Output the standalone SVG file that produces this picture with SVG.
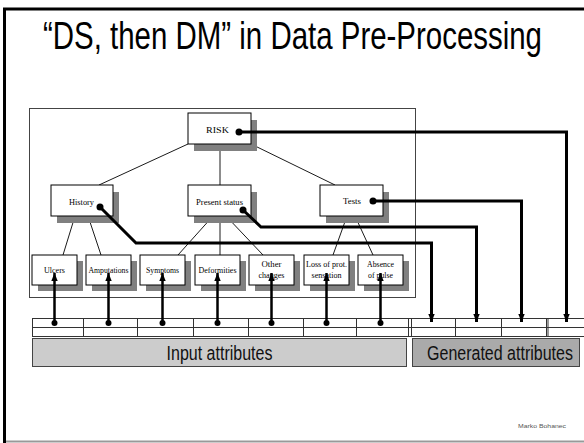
<svg xmlns="http://www.w3.org/2000/svg" width="584" height="443" viewBox="0 0 584 443">
  <style>
    .title { font-family: "Liberation Sans", Arial, sans-serif; font-size: 39px; fill: #000; }
    .box { fill: #fff; stroke: #000; stroke-width: 1; }
    .shadow { fill: #808080; }
    .lbl { font-family: "Liberation Serif", "Times New Roman", serif; font-size: 9px; fill: #000; text-anchor: middle; }
    .tree { stroke: #000; stroke-width: 0.9; fill: none; }
    .conn { stroke: #000; stroke-width: 3; fill: none; }
    .link { stroke: #000; stroke-width: 2.5; fill: none; }
    .grid { stroke: #333; stroke-width: 1; fill: none; }
    .bar { font-family: "Liberation Sans", Arial, sans-serif; font-size: 21px; fill: #111; text-anchor: middle; }
  </style>
  <defs>
    <marker id="head" viewBox="0 0 10 8" refX="10" refY="4" markerWidth="8" markerHeight="6.4" markerUnits="userSpaceOnUse" orient="auto">
      <path d="M0,0 L10,4 L0,8 z" fill="#000"/>
    </marker>
  </defs>

  <!-- slide frame -->
  <rect width="584" height="443" fill="#fff"/>
  <path d="M4.5,443 V9 H584" fill="none" stroke="#000" stroke-width="3"/>
  <line x1="6" y1="441.5" x2="584" y2="441.5" stroke="#999" stroke-width="2"/>

  <!-- narrow title face -->
  <text class="title" transform="translate(43,49) scale(0.755,1)" x="0" y="0">“DS, then DM” in Data Pre-Processing</text>

  <!-- hierarchy frame -->
  <rect x="29.5" y="108.5" width="386" height="189" fill="none" stroke="#444" stroke-width="1"/>

  <!-- tree edges -->
  <g id="tree-edges">
    <line class="tree" x1="188" y1="144" x2="99" y2="185"/>
    <line class="tree" x1="220" y1="144" x2="220" y2="185"/>
    <line class="tree" x1="251" y1="144" x2="335" y2="185"/>
    <line class="tree" x1="75" y1="216" x2="63" y2="255"/>
    <line class="tree" x1="88" y1="216" x2="101" y2="255"/>
    <line class="tree" x1="213" y1="216" x2="178" y2="255"/>
    <line class="tree" x1="220" y1="216" x2="220" y2="255"/>
    <line class="tree" x1="226" y1="216" x2="263" y2="255"/>
    <line class="tree" x1="347" y1="216" x2="333" y2="255"/>
    <line class="tree" x1="355" y1="216" x2="373" y2="255"/>
  </g>

  <!-- upper nodes -->
  <g id="risk">
    <rect class="shadow" x="194" y="120" width="63" height="31"/>
    <rect class="box" x="188" y="113" width="63" height="31"/>
    <text class="lbl" x="217.5" y="133" textLength="23" lengthAdjust="spacingAndGlyphs">RISK</text>
  </g>
  <g id="history">
    <rect class="shadow" x="57" y="192" width="62" height="31"/>
    <rect class="box" x="51" y="185" width="62" height="31"/>
    <text class="lbl" x="81.5" y="205" textLength="25" lengthAdjust="spacingAndGlyphs">History</text>
  </g>
  <g id="present-status">
    <rect class="shadow" x="194" y="192" width="63" height="31"/>
    <rect class="box" x="188" y="185" width="63" height="31"/>
    <text class="lbl" x="219.5" y="205" textLength="47" lengthAdjust="spacingAndGlyphs">Present status</text>
  </g>
  <g id="tests">
    <rect class="shadow" x="326" y="192" width="63" height="31"/>
    <rect class="box" x="320" y="185" width="63" height="31"/>
    <text class="lbl" x="352" y="204" textLength="18" lengthAdjust="spacingAndGlyphs">Tests</text>
  </g>

  <!-- leaf nodes -->
  <g id="ulcers">
    <rect class="shadow" x="38" y="261" width="45" height="30"/>
    <rect class="box" x="32" y="255" width="45" height="30"/>
    <text class="lbl" x="54.5" y="273" textLength="21" lengthAdjust="spacingAndGlyphs">Ulcers</text>
  </g>
  <g id="amputations">
    <rect class="shadow" x="92" y="261" width="45" height="30"/>
    <rect class="box" x="86" y="255" width="45" height="30"/>
    <text class="lbl" x="108.5" y="273" textLength="40" lengthAdjust="spacingAndGlyphs">Amputations</text>
  </g>
  <g id="symptoms">
    <rect class="shadow" x="146" y="261" width="45" height="30"/>
    <rect class="box" x="140" y="255" width="45" height="30"/>
    <text class="lbl" x="162.5" y="273" textLength="33" lengthAdjust="spacingAndGlyphs">Symptoms</text>
  </g>
  <g id="deformities">
    <rect class="shadow" x="201" y="261" width="45" height="30"/>
    <rect class="box" x="195" y="255" width="45" height="30"/>
    <text class="lbl" x="217.5" y="273" textLength="38" lengthAdjust="spacingAndGlyphs">Deformities</text>
  </g>
  <g id="other-changes">
    <rect class="shadow" x="255" y="261" width="45" height="30"/>
    <rect class="box" x="249" y="255" width="45" height="30"/>
    <text class="lbl" x="271.5" y="267" textLength="20" lengthAdjust="spacingAndGlyphs">Other</text>
    <text class="lbl" x="271.5" y="278" textLength="26" lengthAdjust="spacingAndGlyphs">changes</text>
  </g>
  <g id="loss-of-prot-sensation">
    <rect class="shadow" x="310" y="261" width="45" height="30"/>
    <rect class="box" x="304" y="255" width="45" height="30"/>
    <text class="lbl" x="326.5" y="267" textLength="41" lengthAdjust="spacingAndGlyphs">Loss of prot.</text>
    <text class="lbl" x="326.5" y="278" textLength="30" lengthAdjust="spacingAndGlyphs">sensation</text>
  </g>
  <g id="absence-of-pulse">
    <rect class="shadow" x="364" y="261" width="45" height="30"/>
    <rect class="box" x="358" y="255" width="45" height="30"/>
    <text class="lbl" x="380.5" y="267" textLength="27" lengthAdjust="spacingAndGlyphs">Absence</text>
    <text class="lbl" x="380.5" y="278" textLength="25" lengthAdjust="spacingAndGlyphs">of pulse</text>
  </g>

  <!-- attribute table -->
  <g id="attribute-table">
    <rect x="32.5" y="318.5" width="560" height="18" fill="#fff" stroke="#333" stroke-width="1"/>
    <line class="grid" x1="32" y1="327.5" x2="584" y2="327.5"/>
    <path class="grid" d="M83.5,318 V337 M137.5,318 V337 M193.5,318 V337 M248.5,318 V337 M303.5,318 V337 M356.5,318 V337 M408.5,318 V337 M411.5,318 V337 M455.5,318 V337 M501.5,318 V337 M546.5,318 V337 M548,318 V337"/>
  </g>

  <g id="input-attributes">
    <rect x="32.5" y="338.5" width="374" height="28" fill="#cccccc" stroke="#444" stroke-width="1"/>
    <text class="bar" transform="translate(219.5,360) scale(0.763,1)" x="0" y="0">Input attributes</text>
  </g>
  <g id="generated-attributes">
    <rect x="412.5" y="338.5" width="167" height="28" fill="#aaaaaa" stroke="#444" stroke-width="1"/>
    <text class="bar" transform="translate(500,360) scale(0.763,1)" x="0" y="0">Generated attributes</text>
  </g>

  <!-- connectors -->
  <g id="connectors">
    <!-- input attributes feed the leaves -->
    <g class="inputs">
      <line class="link" x1="54.5" y1="323" x2="54.5" y2="273" marker-end="url(#head)"/>
      <line class="link" x1="108.5" y1="323" x2="108.5" y2="273" marker-end="url(#head)"/>
      <line class="link" x1="162.5" y1="323" x2="162.5" y2="273" marker-end="url(#head)"/>
      <line class="link" x1="217.5" y1="323" x2="217.5" y2="273" marker-end="url(#head)"/>
      <line class="link" x1="271.5" y1="323" x2="271.5" y2="273" marker-end="url(#head)"/>
      <line class="link" x1="326.5" y1="323" x2="326.5" y2="273" marker-end="url(#head)"/>
      <line class="link" x1="380.5" y1="323" x2="380.5" y2="273" marker-end="url(#head)"/>
      <g fill="#000">
        <circle cx="54.5" cy="323" r="3"/>
        <circle cx="108.5" cy="323" r="3"/>
        <circle cx="162.5" cy="323" r="3"/>
        <circle cx="217.5" cy="323" r="3"/>
        <circle cx="271.5" cy="323" r="3"/>
        <circle cx="326.5" cy="323" r="3"/>
        <circle cx="380.5" cy="323" r="3"/>
      </g>
    </g>
    <!-- aggregated nodes become generated attributes -->
    <g class="generated">
      <path class="conn" d="M100,207 L136,243 H431.5 V322" marker-end="url(#head)"/>
      <path class="conn" d="M243,210 L261,227 H476.5 V322" marker-end="url(#head)"/>
      <path class="conn" d="M373,201 H521.5 V322" marker-end="url(#head)"/>
      <path class="conn" d="M239,132 H566.5 V322" marker-end="url(#head)"/>
      <g fill="#000">
        <circle cx="100" cy="207" r="3.5"/>
        <circle cx="243" cy="210" r="3.5"/>
        <circle cx="373" cy="201" r="3.5"/>
        <circle cx="239" cy="132" r="3.5"/>
      </g>
    </g>
  </g>

  <text x="542" y="428" font-family="Liberation Sans, Arial, sans-serif" font-size="6" fill="#555" text-anchor="middle" textLength="48" lengthAdjust="spacingAndGlyphs">Marko Bohanec</text>
</svg>
